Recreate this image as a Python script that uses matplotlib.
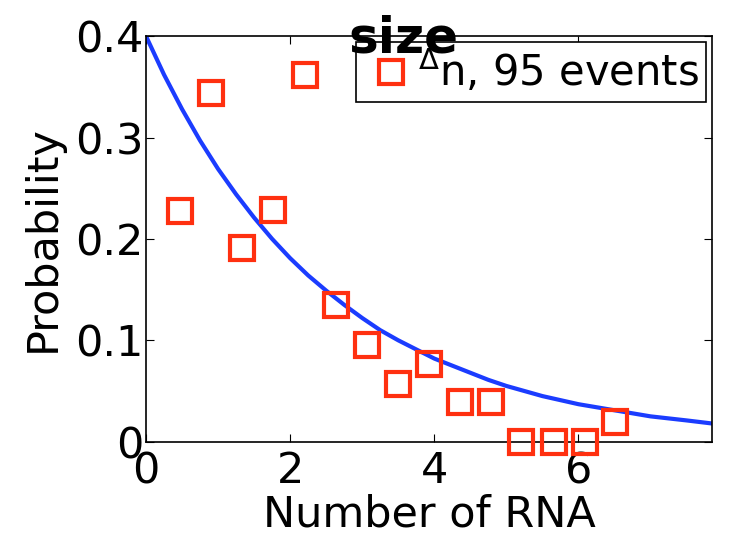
import numpy as np
import matplotlib
matplotlib.use('Agg')
import matplotlib.pyplot as plt

# measured histogram (square markers)
rna_x = [0.47, 0.90, 1.33, 1.76, 2.20, 2.63, 3.07, 3.49, 3.93, 4.36, 4.79, 5.21, 5.66, 6.09, 6.51]
prob = [0.228, 0.344, 0.191, 0.229, 0.362, 0.135, 0.095, 0.057, 0.077, 0.039, 0.039, 0.0, 0.0, 0.0, 0.019]

# fitted curve
fit_x = [0, 0.25, 0.5, 0.75, 1.0, 1.25, 1.5, 1.75, 2.0, 2.25, 2.5, 2.75, 3.0, 3.25,
         3.5, 3.75, 4.0, 4.25, 4.5, 4.75, 5.0, 5.25, 5.5, 5.75, 6.0, 6.25, 6.5,
         6.75, 7.0, 7.25, 7.5, 7.85]
fit_y = [0.400, 0.362, 0.328, 0.297, 0.269, 0.244, 0.221, 0.200, 0.181, 0.164,
         0.149, 0.135, 0.122, 0.110, 0.100, 0.091, 0.082, 0.075, 0.068, 0.061,
         0.055, 0.050, 0.045, 0.041, 0.037, 0.034, 0.031, 0.028, 0.025, 0.023,
         0.021, 0.018]

xticks = [0, 2, 4, 6]
yticks = [0, 0.1, 0.2, 0.3, 0.4]
yticklabels = ['0', '0.1', '0.2', '0.3', '0.4']

fig = plt.figure(figsize=(7.3, 5.39), dpi=100)
ax = fig.add_axes([0.2, 0.1805, 0.775, 0.7525])

ax.plot(fit_x, fit_y, color='#1b3cff', lw=3, zorder=2)
ax.plot(rna_x, prob, 's', ms=17, mfc='none', mec='#ff3010', mew=3,
        label=r'$^{\Delta}$n, 95 events', clip_on=False, zorder=3)

ax.set_xlim(0, 7.85)
ax.set_ylim(0, 0.4)
ax.set_xticks(xticks)
ax.set_xticklabels([str(t) for t in xticks])
ax.set_yticks(yticks)
ax.set_yticklabels(yticklabels)
ax.tick_params(direction='in', length=6, labelsize=31, pad=2,
               top=True, right=True)
ax.tick_params(axis='x', pad=6)
for s in ax.spines.values():
    s.set_linewidth(1.2)

ax.set_xlabel('Number of RNA', fontsize=31, labelpad=1)
ax.set_ylabel('Probability', fontsize=31, labelpad=8)

leg = ax.legend(loc='upper right', fontsize=30, handlelength=1.4,
                handletextpad=-0.05, borderpad=0.15, borderaxespad=0.15,
                fancybox=False, framealpha=1, numpoints=1)
leg.get_frame().set_edgecolor('black')
leg.get_frame().set_linewidth(1.2)

fig.text(0.552, 0.903, 'size', fontsize=36, fontweight='bold',
         ha='center', va='baseline', zorder=5)

fig.savefig('out.png', dpi=100)
